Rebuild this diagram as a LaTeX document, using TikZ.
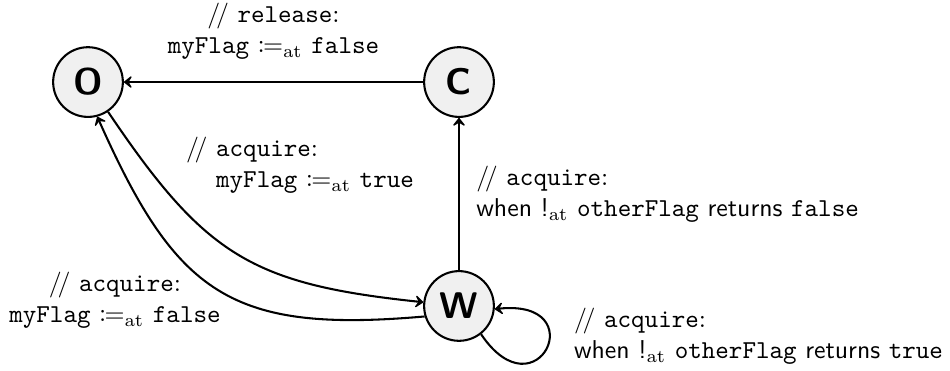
\documentclass[tikz,border=0pt]{standalone}
\usepackage{mathtools}
\usepackage{amsmath}
\usepackage{amssymb}
\usepackage{tikz}
\usetikzlibrary{arrows.meta,positioning}

\newcommand{\assat}{\mathrel{\coloneqq_{\mathrm{at}}}}

\begin{document}
\begin{tikzpicture}[>={Stealth[length=3.8pt,width=6pt,inset=1.8pt,round]}, thick,
	stato/.style={draw, circle, fill=black!6, minimum size=0.95cm, inner sep=0pt, font=\sffamily\bfseries\Large},
	lbl/.style={inner sep=3.33pt}]
%	\draw [help lines] (0,0) grid (13,5);
	\useasboundingbox (0,0) rectangle (12.944,5.055);
	%Stati
	\node [stato] (O) at (1.199,3.937) {O};
	\node [stato] (C) at (6.254,3.937) {C};
	\node [stato] (W) at (6.254,0.886) {W};
	%Transizioni
	\draw [->] (C) -- (O) node [lbl, midway, above=5pt, align=center] (lCO) {$/\!/$ \texttt{release}:\\ \texttt{myFlag} $\assat$ \texttt{false}};
	\draw [->] (W) -- (C) node [lbl, midway, right=3pt, align=left] (lWC) {$/\!/$ \texttt{acquire}:\\ \textsf{when !}$_{\mathrm{at}}$ \texttt{otherFlag} \textsf{returns} \texttt{false}};
	\draw [->] (O.-56) to [out=-56, in=174, looseness=1.2] (W.174);
	\draw [->] (W.197) to [out=185, in=-66, looseness=1.3] (O.-75);
	\draw [->] (W.-52) .. controls +(-56:1.36) and +(6:1.36) .. (W.-5);
	%Etichette
	\node [lbl, anchor=west, align=left] (lOW) at (2.404,2.807) {$/\!/$ \texttt{acquire}:\\ \hphantom{$/\!/$ }\texttt{myFlag} $\assat$ \texttt{true}};
	\node [lbl, align=center] (lWO) at (1.567,0.967) {$/\!/$ \texttt{acquire}:\\ \texttt{myFlag} $\assat$ \texttt{false}};
	\node [lbl, anchor=west, align=left] (lWW) at (7.69,0.477) {$/\!/$ \texttt{acquire}:\\ \textsf{when !}$_{\mathrm{at}}$ \texttt{otherFlag} \textsf{returns} \texttt{true}};
\end{tikzpicture}
\end{document}
